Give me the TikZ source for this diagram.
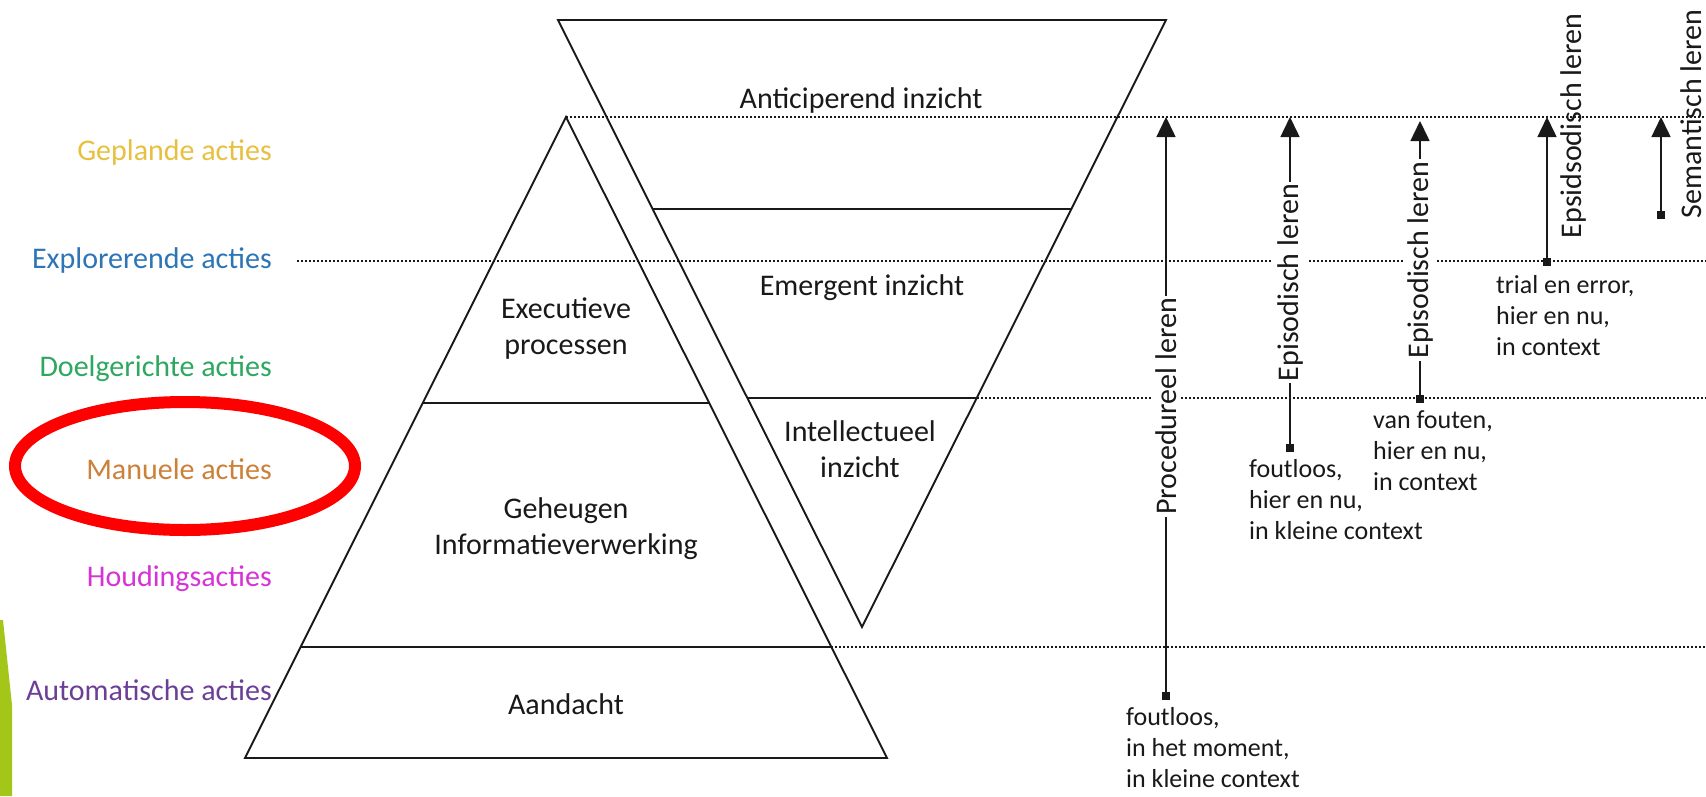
\documentclass[tikz,border=0pt]{standalone}
\usepackage{fontspec}
\setmainfont{Carlito}
\usetikzlibrary{arrows.meta}

\definecolor{cGepland}{RGB}{232,192,64}
\definecolor{cExplor}{RGB}{46,117,182}
\definecolor{cDoel}{RGB}{46,168,96}
\definecolor{cManueel}{RGB}{204,128,56}
\definecolor{cHouding}{RGB}{214,51,214}
\definecolor{cAuto}{RGB}{107,63,150}
\definecolor{cRing}{RGB}{255,0,0}
\definecolor{cLime}{RGB}{163,198,25}
\definecolor{cInk}{RGB}{25,25,25}

\begin{document}
\begin{tikzpicture}[x=1pt,y=-1pt,
  outline/.style={draw=cInk, line width=1.9pt, line join=miter},
  level/.style={draw=cInk, line width=1.6pt, dash pattern=on 1.8pt off 2.2pt},
  lbl/.style={font=\fontsize{30}{36}\selectfont, text=cInk, align=center, inner sep=0pt},
  act/.style={font=\fontsize{30}{36}\selectfont, anchor=east, inner sep=0pt},
  note/.style={font=\fontsize{26}{31}\selectfont, text=cInk, align=left, anchor=north west, inner sep=0pt},
  rise/.style={draw=cInk, line width=1.5pt, -{Triangle[width=19pt,length=20pt]}},
  foot/.style={fill=cInk, inner sep=0pt, minimum size=8pt},
  vlabel/.style={font=\fontsize{30}{36}\selectfont, text=cInk, rotate=90, inner xsep=2pt, inner ysep=4pt},
]
\useasboundingbox (0,0) rectangle (1706,796);
\fill[white] (0,0) rectangle (1706,796);

% lime sliver along the left edge
\fill[cLime] (0,620) -- (3,620) -- (12,705) -- (12,796) -- (0,796) -- cycle;

% key corners of the two triangles
\coordinate (apex) at (566,117);
\coordinate (bl)   at (245,758);
\coordinate (br)   at (887,758);
\coordinate (tl)   at (558,20);
\coordinate (tr)   at (1166,20);
\coordinate (vtx)  at (862,627);

% ends of the dotted level lines
\coordinate (l1e) at (1706,117);
\coordinate (l2s) at (297,261);
\coordinate (l2e) at (1706,261);
\coordinate (l3s) at (977,398);
\coordinate (l3e) at (1706,398);
\coordinate (l4s) at (831,647);
\coordinate (l4e) at (1706,647);

\draw[level] (apex) -- (l1e);
\draw[level] (l2s) -- (l2e);
\draw[level] (l3s) -- (l3e);
\draw[level] (l4s) -- (l4e);

% pyramid
\draw[outline] (apex) -- (bl) -- (br) -- cycle;
\coordinate (p1l) at (423,403);  \coordinate (p1r) at (709,403);
\coordinate (p2l) at (301,647);  \coordinate (p2r) at (831,647);
\draw[outline] (p1l) -- (p1r);
\draw[outline] (p2l) -- (p2r);

% inverted triangle
\draw[outline] (tl) -- (tr) -- (vtx) -- cycle;
\coordinate (v1l) at (653,209);  \coordinate (v1r) at (1071,209);
\coordinate (v2l) at (747,398);  \coordinate (v2r) at (977,398);
\draw[outline] (v1l) -- (v1r);
\draw[outline] (v2l) -- (v2r);

% texts inside the triangles
\node[lbl] (antic) at (861,100) {Anticiperend inzicht};
\node[lbl] (emerg) at (862,288) {Emergent inzicht};
\node[lbl] (intel) at (860,449) {Intellectueel\\inzicht};
\node[lbl] (exec)  at (566,329) {Executieve\\processen};
\node[lbl] (geh)   at (566,529) {Geheugen\\Informatieverwerking};
\node[lbl] (aand)  at (566,704) {Aandacht};

% kinds of action
\node[act, text=cGepland] (a1) at (272,152) {Geplande acties};
\node[act, text=cExplor]  (a2) at (272,260) {Explorerende acties};
\node[act, text=cDoel]    (a3) at (272,369) {Doelgerichte acties};
\node[act, text=cManueel] (a4) at (272,469) {Manuele acties};
\node[act, text=cHouding] (a5) at (272,579) {Houdingsacties};
\node[act, text=cAuto]    (a6) at (272,690) {Automatische acties};

% red ring round the manual actions
\draw[cRing, line width=12pt] (185,466) ellipse [x radius=170pt, y radius=64pt];

% learning arrows
\node[foot] (f1) at (1166,696) {};
\coordinate (t1) at (1166,117);
\draw[rise] (f1.center) -- node[vlabel, fill=white] (r1) {Procedureel leren} (t1);

\node[foot] (f2) at (1290,448) {};
\coordinate (t2) at (1290,117);
\draw[rise] (f2.center) -- node[vlabel, fill=white] (r2) {Episodisch leren} (t2);

\node[foot] (f3) at (1420,399) {};
\coordinate (t3) at (1420,121);
\draw[rise] (f3.center) -- node[vlabel, fill=white] (r3) {Episodisch leren} (t3);

\node[foot] (f4) at (1547,262) {};
\coordinate (t4) at (1547,117);
\draw[rise] (f4.center) -- (t4);
\node[vlabel, inner sep=0pt] (r4) at (1573,126) {Epsidsodisch leren};

\node[foot] (f5) at (1661,215) {};
\coordinate (t5) at (1661,117);
\draw[rise] (f5.center) -- (t5);
\node[vlabel, inner sep=0pt] (r5) at (1691,114) {Semantisch leren};

% conditions under each arrow
\node[note] (n1) at (1126,707) {foutloos,\\in het moment,\\in kleine context};
\node[note] (n2) at (1249,459) {foutloos,\\hier en nu,\\in kleine context};
\node[note] (n3) at (1373,410) {van fouten,\\hier en nu,\\in context};
\node[note] (n4) at (1496,275) {trial en error,\\hier en nu,\\in context};
\end{tikzpicture}
\end{document}
